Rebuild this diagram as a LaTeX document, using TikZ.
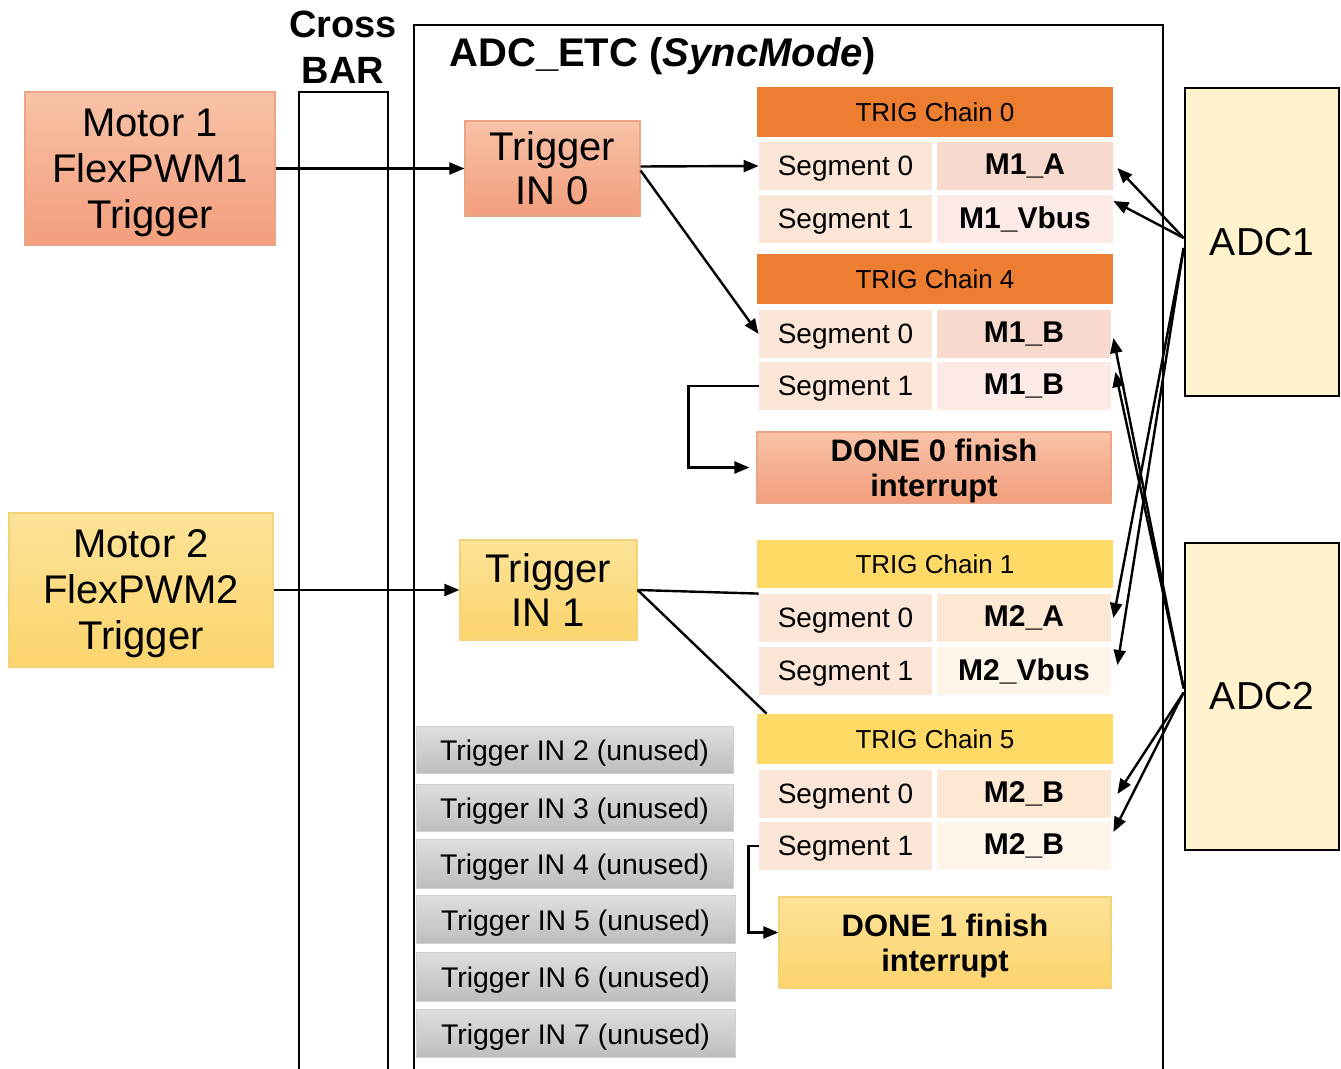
\documentclass[tikz,border=0pt]{standalone}
\usepackage{fontspec}
\setmainfont{Liberation Sans}
\usetikzlibrary{arrows.meta,fit,calc}
\definecolor{salT}{HTML}{F8C2A7}
\definecolor{salB}{HTML}{F29E7C}
\definecolor{salD}{HTML}{EBA485}
\definecolor{yelT}{HTML}{FDE398}
\definecolor{yelB}{HTML}{FBD46C}
\definecolor{yelD}{HTML}{F2D37A}
\definecolor{hdrO}{HTML}{ED7D31}
\definecolor{hdrY}{HTML}{FFD966}
\definecolor{segP}{HTML}{FBE5D6}
\definecolor{valA}{HTML}{F8D9CD}
\definecolor{valB}{HTML}{FBEAE5}
\definecolor{valC}{HTML}{FCE8D3}
\definecolor{valD}{HTML}{FDF4EA}
\definecolor{adcF}{HTML}{FFF2CC}
\definecolor{grT}{HTML}{DEDEDE}
\definecolor{grB}{HTML}{BDBDBD}
\definecolor{grD}{HTML}{D0D0D0}
\tikzset{
  bx/.style={inner sep=0pt, align=center},
  salmonbox/.style={bx, top color=salT, bottom color=salB, draw=salD, line width=0.6pt},
  yellowbox/.style={bx, top color=yelT, bottom color=yelB, draw=yelD, line width=0.6pt},
  hdrorange/.style={bx, fill=hdrO, font=\fontsize{13}{15}\selectfont},
  hdryellow/.style={bx, fill=hdrY, font=\fontsize{13}{15}\selectfont},
  segbox/.style={bx, fill=segP, text depth=0pt, font=\fontsize{14}{16}\selectfont},
  valbox/.style={bx, font=\bfseries\fontsize{15}{17}\selectfont},
  donefont/.style={text depth=0pt, font=\bfseries\fontsize{15.5}{17.5}\selectfont},
  bigfont/.style={text depth=0pt, font=\fontsize{20}{23}\selectfont},
  trigfont/.style={font=\fontsize{20}{22}\selectfont},
  unusedbox/.style={bx, top color=grT, bottom color=grB, draw=grD, line width=0.5pt, text depth=0pt, font=\fontsize{14.2}{16}\selectfont},
  adcbox/.style={bx, fill=adcF, draw=black, line width=1.3pt, font=\fontsize{19.5}{22}\selectfont},
  frame/.style={draw=black, line width=1.4pt, inner sep=0pt},
  arr/.style={draw=black, line width=1.2pt, -{Triangle[length=7.5pt,width=6pt]}},
  plainline/.style={draw=black, line width=1.2pt},
}
% \mybox[style]{name}{x1}{y1}{x2}{y2}{text}   (coordinates in picture units, 1 unit = 0.5pt)
\newcommand\mybox[7][]{%
  \pgfmathsetmacro\myCX{(#3+#5)/2}%
  \pgfmathsetmacro\myCY{(#4+#6)/2}%
  \pgfmathsetmacro\myW{(#5-#3)*0.5}%
  \pgfmathsetmacro\myH{(#6-#4)*0.5}%
  \node[#1, minimum width=\myW pt, minimum height=\myH pt] (#2) at (\myCX,\myCY) {#7};%
}
\begin{document}
\begin{tikzpicture}[x=0.5pt,y=-0.5pt]
\clip (0,0) rectangle (1341,1069);
\fill[white] (0,0) rectangle (1341,1069);

% frames
\node[frame, fit={(299,92)(388,1080)}] (xbar) {};
\node[frame, fit={(414,25)(1163,1080)}] (etc) {};
\node[bx, font=\bfseries\fontsize{19}{23}\selectfont] (xbarlbl) at (343,47) {Cross\\BAR};
\node[anchor=west, inner sep=0pt, font=\bfseries\fontsize{20}{23}\selectfont] (title) at (449,56) {ADC\_ETC (\textit{SyncMode})};

% motors
\mybox[salmonbox, bigfont]{m1}{25}{92}{275}{245}{Motor 1\\FlexPWM1\\Trigger}
\mybox[yellowbox, bigfont]{m2}{9}{513}{273}{667}{Motor 2\\FlexPWM2\\Trigger}

% trigger inputs
\mybox[salmonbox, trigfont]{tin0}{465}{121}{640}{216}{Trigger\\IN 0}
\mybox[yellowbox, trigfont]{tin1}{460}{540}{637}{640}{Trigger\\IN 1}

% chain 0
\mybox[hdrorange]{c0}{757}{87}{1113}{137}{TRIG Chain 0}
\mybox[segbox]{c0s0}{759}{142}{932}{190}{Segment 0}
\mybox[valbox, fill=valA]{c0v0}{937}{142}{1113}{190}{M1\_A}
\mybox[segbox]{c0s1}{759}{195}{932}{243}{Segment 1}
\mybox[valbox, fill=valB]{c0v1}{937}{195}{1113}{243}{M1\_Vbus}

% chain 4
\mybox[hdrorange]{c4}{757}{254}{1113}{304}{TRIG Chain 4}
\mybox[segbox]{c4s0}{759}{310}{932}{358}{Segment 0}
\mybox[valbox, fill=valA]{c4v0}{937}{310}{1111}{358}{M1\_B}
\mybox[segbox]{c4s1}{759}{362}{932}{410}{Segment 1}
\mybox[valbox, fill=valB]{c4v1}{937}{362}{1111}{410}{M1\_B}

\mybox[salmonbox, donefont]{done0}{757}{432}{1111}{503}{DONE 0 finish\\interrupt}

% chain 1
\mybox[hdryellow]{c1}{757}{540}{1113}{588}{TRIG Chain 1}
\mybox[segbox]{c1s0}{759}{594}{932}{642}{Segment 0}
\mybox[valbox, fill=valC]{c1v0}{937}{594}{1111}{642}{M2\_A}
\mybox[segbox]{c1s1}{759}{647}{932}{695}{Segment 1}
\mybox[valbox, fill=valD]{c1v1}{937}{647}{1111}{695}{M2\_Vbus}

% chain 5
\mybox[hdryellow]{c5}{757}{714}{1113}{764}{TRIG Chain 5}
\mybox[segbox]{c5s0}{759}{770}{932}{818}{Segment 0}
\mybox[valbox, fill=valC]{c5v0}{937}{770}{1111}{818}{M2\_B}
\mybox[segbox]{c5s1}{759}{822}{932}{870}{Segment 1}
\mybox[valbox, fill=valD]{c5v1}{937}{822}{1111}{870}{M2\_B}

\mybox[yellowbox, donefont]{done1}{779}{897}{1111}{988}{DONE 1 finish\\interrupt}

% unused triggers
\mybox[unusedbox]{u2}{416}{727}{733}{774}{Trigger IN 2 (unused)}
\mybox[unusedbox]{u3}{416}{785}{733}{832}{Trigger IN 3 (unused)}
\mybox[unusedbox]{u4}{416}{840}{733}{889}{Trigger IN 4 (unused)}
\mybox[unusedbox]{u5}{416}{896}{735}{944}{Trigger IN 5 (unused)}
\mybox[unusedbox]{u6}{416}{953}{735}{1002}{Trigger IN 6 (unused)}
\mybox[unusedbox]{u7}{416}{1010}{735}{1058}{Trigger IN 7 (unused)}

% ADCs
\mybox[adcbox]{adc1}{1185}{88}{1339}{396}{ADC1}
\mybox[adcbox]{adc2}{1185}{543}{1339}{850}{ADC2}

% connectors
\draw[arr] (m1.east) -- (tin0.west);
\draw[arr] (m2.east) -- (tin1.west);
\draw[arr] ([yshift=1pt]tin0.east) -- (c0s0.west);
\draw[arr] ([yshift=-1pt]tin0.east) -- (c4s0.west);
\draw[plainline] (tin1.east) -- (c1s0.north west);
\draw[plainline] (tin1.east) -- ([xshift=5pt]c5.north west);
\draw[arr] (c4s1.west) -- ++(-70,0) |- ([xshift=-3.5pt]done0.west);
\draw[arr] (c5s1.west) -- ++(-10,0) |- ([yshift=5pt]done1.west);

\draw[arr] ([yshift=2pt]adc1.west) -- ([xshift=2pt,yshift=-1pt]c0v0.east);
\draw[arr] ([yshift=2pt]adc1.west) -- ([yshift=9pt]c0v1.east);
\draw[arr] ([yshift=-3pt]adc1.west) -- ([xshift=1pt]c1v0.east);
\draw[arr] ([yshift=-3pt]adc1.west) -- ([xshift=3pt,yshift=3pt]c1v1.east);
\draw[arr] ([yshift=4pt]adc2.west) -- ([xshift=1pt,yshift=-2pt]c4v0.east);
\draw[arr] ([yshift=4pt]adc2.west) -- ([xshift=2pt,yshift=7pt]c4v1.east);
\draw[arr] ([yshift=2pt]adc2.west) -- ([xshift=3pt]c5v0.east);
\draw[arr] ([yshift=2pt]adc2.west) -- ([xshift=1pt,yshift=7pt]c5v1.east);
\end{tikzpicture}
\end{document}
